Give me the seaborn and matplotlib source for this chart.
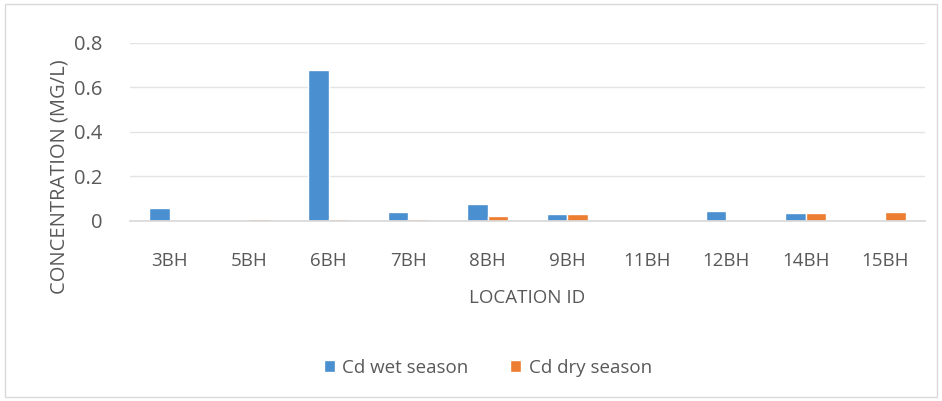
import matplotlib
matplotlib.use("Agg")
import matplotlib.pyplot as plt
import seaborn as sns
import pandas as pd
from matplotlib.patches import Rectangle

locations = ["3BH", "5BH", "6BH", "7BH", "8BH", "9BH", "11BH", "12BH", "14BH", "15BH"]
cd_wet = [0.058, 0.002, 0.68, 0.042, 0.076, 0.033, 0.002, 0.045, 0.035, 0.002]
cd_dry = [0.005, 0.010, 0.010, 0.010, 0.020, 0.033, 0.000, 0.000, 0.035, 0.038]
series_names = ["Cd wet season", "Cd dry season"]
y_ticks = [0, 0.2, 0.4, 0.6, 0.8]
y_tick_labels = ["0", "0.2", "0.4", "0.6", "0.8"]

df = pd.DataFrame({
    "Location": locations * 2,
    "Value": cd_wet + cd_dry,
    "Series": [series_names[0]] * len(locations) + [series_names[1]] * len(locations),
})

sns.set_theme(style="white")
plt.rcParams["font.family"] = ["Open Sans", "DejaVu Sans"]
text_color = "#595959"

fig = plt.figure(figsize=(9.42, 4.01), dpi=100)
ax = fig.add_axes([0.138, 0.449, 0.844, 0.444])

sns.barplot(data=df, x="Location", y="Value", hue="Series", order=locations,
            hue_order=series_names, palette=["#4a8fcf", "#ed7d31"],
            width=0.52, ax=ax, legend=True, saturation=1)

ax.set_ylim(0, 0.8)
ax.set_yticks(y_ticks)
ax.set_yticklabels(y_tick_labels, fontsize=14.5, color=text_color)
ax.tick_params(axis="x", labelsize=13.5, colors=text_color, length=0, pad=22)
ax.tick_params(axis="y", length=0, pad=20)
ax.yaxis.grid(True, color="#e4e4e4", linewidth=1)
ax.set_axisbelow(True)
for s in ["top", "right", "left"]:
    ax.spines[s].set_visible(False)
ax.spines["bottom"].set_color("#d9d9d9")

ax.set_xlabel("LOCATION ID", fontsize=13.5, color=text_color, labelpad=14)
ax.set_ylabel("CONCENTRATION (MG/L)", fontsize=14.5, color=text_color)
ax.yaxis.set_label_coords(-0.076, 0.25)

leg = ax.legend(loc="upper center", bbox_to_anchor=(0.45, -0.68), ncol=2,
                frameon=False, fontsize=13.5, handlelength=0.6, handleheight=0.6,
                columnspacing=2.2, handletextpad=0.4)
for t in leg.get_texts():
    t.set_color(text_color)

fig.patches.append(Rectangle((0.005, 0.01), 0.99, 0.98, transform=fig.transFigure,
                             fill=False, edgecolor="#d9d9d9", linewidth=1))

fig.savefig("out.png", dpi=100)
